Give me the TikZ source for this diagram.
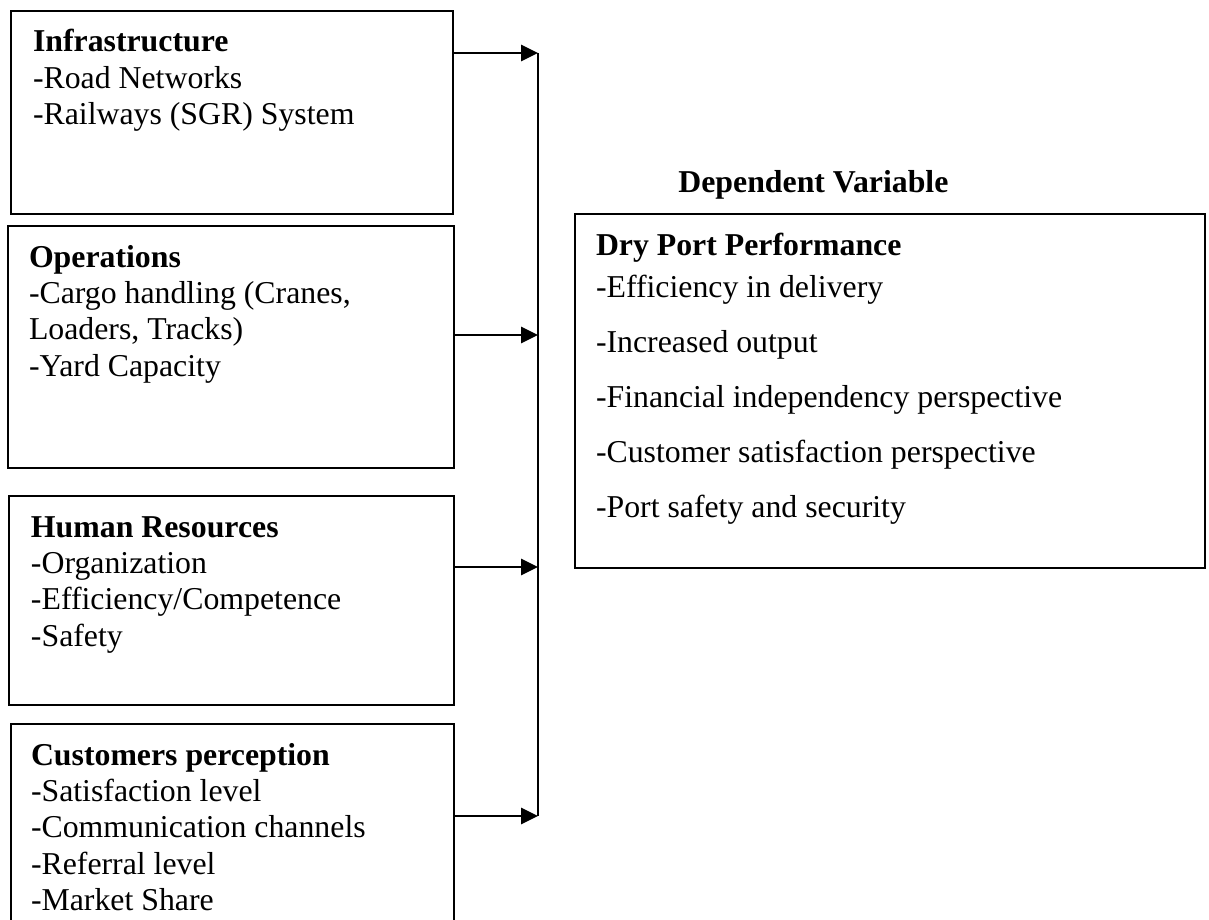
\documentclass[tikz,border=0pt]{standalone}
\usepackage{fontspec}
\setmainfont{Liberation Serif}
\usetikzlibrary{arrows.meta}
\newcommand{\boxbody}[4]{\begin{minipage}[t][#2][t]{#1}\leftskip=#3\relax\rule{0pt}{20.5pt}#4\end{minipage}}
\tikzset{
  varbox/.style={draw, line width=1pt, inner sep=0pt, anchor=north west,
    font=\fontsize{15.9pt}{18.2pt}\selectfont},
  heading/.style={inner sep=0pt, anchor=base west,
    font=\fontsize{15.9pt}{18.2pt}\selectfont\bfseries},
  feed/.style={line width=1.4pt, -{Triangle[length=8.5pt,width=8pt]}},
  bus/.style={line width=1.1pt}
}
\begin{document}
\begin{tikzpicture}[x=0.5pt, y=-0.5pt]
    \useasboundingbox (0,0) rectangle (1209,920);
    \clip (0,0) rectangle (1209,920);
    \node[varbox] (infra) at (10,10) {\boxbody{221pt}{101.5pt}{11pt}{\textbf{Infrastructure}\\-Road Networks\\-Railways (SGR) System}};
    \node[varbox] (ops) at (7,225) {\boxbody{223pt}{121pt}{10.5pt}{\textbf{Operations}\\-Cargo handling (Cranes,\\Loaders, Tracks)\\-Yard Capacity}};
    \node[varbox] (hr) at (8,495) {\boxbody{222.5pt}{104.5pt}{11pt}{\textbf{Human Resources}\\-Organization\\-Efficiency/Competence\\-Safety}};
    \node[varbox] (cust) at (10,723) {\boxbody{221.5pt}{118.5pt}{10pt}{\textbf{Customers perception}\\-Satisfaction level\\-Communication channels\\-Referral level\\-Market Share}};
    \node[heading] (deplabel) at (678,192) {Dependent Variable};
    \node[varbox] (perf) at (574,213) {\boxbody{315pt}{177pt}{10.5pt}{\textbf{Dry Port Performance}\\[2.8pt]-Efficiency in delivery\\[9.3pt]-Increased output\\[9.3pt]-Financial independency perspective\\[9.3pt]-Customer satisfaction perspective\\[9.3pt]-Port safety and security}};
    \coordinate (j1) at (538,53);
    \coordinate (j2) at (538,335);
    \coordinate (j3) at (538,567);
    \coordinate (j4) at (538,816);
    \draw [bus] (j1) -- (j4);
    \draw [feed] (infra.east |- j1) -- (j1);
    \draw [feed] (ops.east |- j2) -- (j2);
    \draw [feed] (hr.east |- j3) -- (j3);
    \draw [feed] (cust.east |- j4) -- (j4);
\end{tikzpicture}
\end{document}
